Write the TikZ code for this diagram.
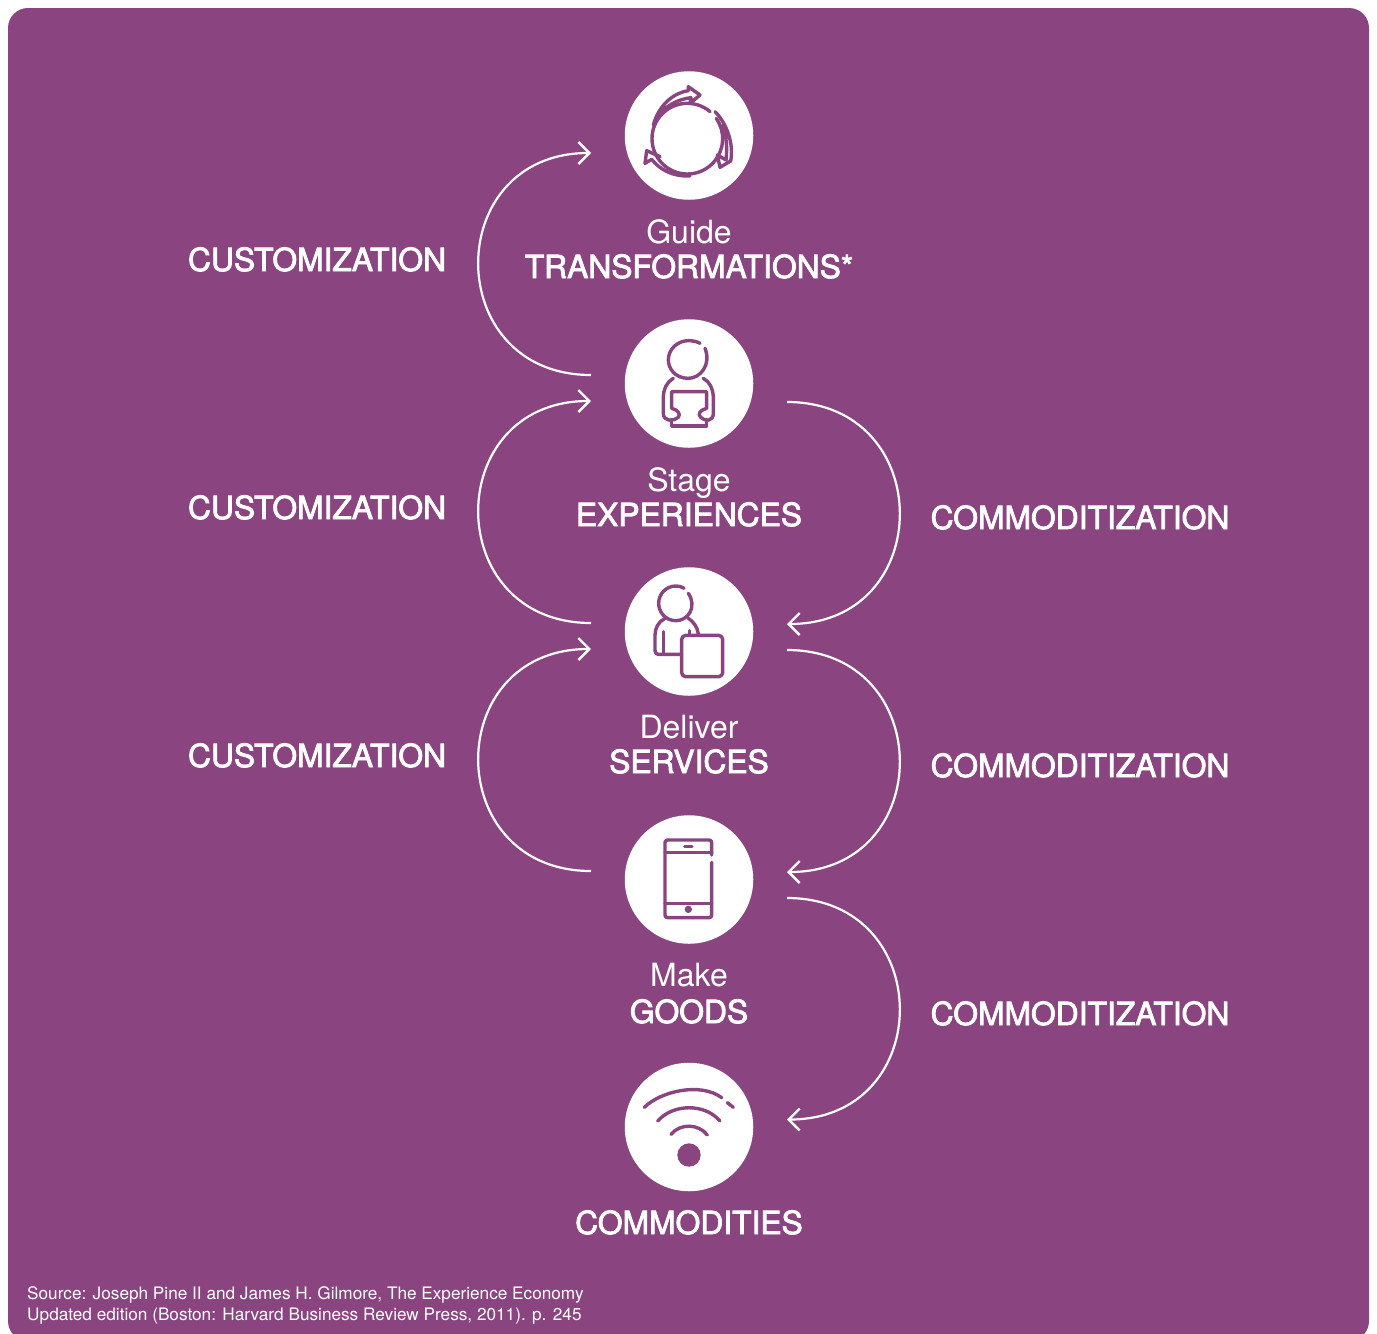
\documentclass[tikz,border=0pt]{standalone}
\usepackage{fontspec}
\setmainfont{TeX Gyre Heros}
\newfontfamily\medfont[FakeBold=2.5]{TeX Gyre Heros}
\usetikzlibrary{arrows.meta}
\definecolor{plum}{RGB}{138,68,128}
\tikzset{
  disc/.style={circle,fill=white,minimum size=128.5pt,inner sep=0pt},
  flow/.style={white,line width=2.2pt,-{Straight Barb[length=11pt,width=22pt,line width=2.4pt]}},
  small/.style={white,anchor=base,font=\fontsize{32pt}{34pt}\selectfont},
  big/.style={white,anchor=base,font=\medfont\fontsize{31.8pt}{34pt}\selectfont},
  note/.style={white,anchor=base west,inner sep=0pt,font=\fontsize{17.2pt}{19pt}\selectfont},
  icon/.style={shift={(#1)},scale=1/3,plum,line width=3.4pt,line cap=round,line join=round},
}
\begin{document}
\begin{tikzpicture}[x=1pt,y=-1pt]
\useasboundingbox (0,0) rectangle (1377,1334);
\fill[plum,rounded corners=20pt] (8,8) rectangle (1369,1341);
% circles
\foreach \n/\y in {guide/135.5,stage/383.5,services/631.5,goods/879.5,commodities/1127} {
  \node[disc] (\n) at (689,\y) {};
}
% captions
\foreach \n/\y/\z/\s/\t in {guide/243/278/Guide/TRANSFORMATIONS*,stage/491/526/Stage/EXPERIENCES,services/738/773/Deliver/SERVICES,goods/986/1023/Make/GOODS} {
  \node[small] (\n-a) at (689,\y) {\s};
  \node[big] (\n-b) at (689,\z) {\t};
}
\node[big] (commodities-b) at (689,1234) {COMMODITIES};
% customization arcs
\foreach \i/\j/\y in {stage/guide/271,services/stage/519,goods/services/767} {
  \coordinate (\i-from) at ([shift={(-98,-8.5)}]\i.center);
  \coordinate (\j-to) at ([shift={(-98,17.5)}]\j.center);
  \draw[flow] (\i-from) .. controls +(-150,0) and +(-150,0) .. (\j-to);
  \node[big] (\i-up) at (317,\y) {CUSTOMIZATION};
}
% commoditization arcs
\foreach \i/\j/\y in {stage/services/529,services/goods/777,goods/commodities/1025} {
  \coordinate (\i-start) at ([shift={(98,18.5)}]\i.center);
  \coordinate (\j-end) at ([shift={(98,-7.5)}]\j.center);
  \draw[flow] (\i-start) .. controls +(150,0) and +(150,0) .. (\j-end);
  \node[big] (\i-down) at (1080,\y) {COMMODITIZATION};
}
% cycle
\begin{scope}[icon={610,60}]
  \draw (232,236) ++(-50:106) arc[start angle=-50,end angle=-395,radius=106];
  \draw (130,195) .. controls (145,140) and (185,100) .. (235,92) -- (235,80) -- (270,105) -- (240,130) -- (243,113) .. controls (200,118) and (165,140) .. (142,170);
  \draw (240,348) .. controls (190,350) and (150,330) .. (125,298) -- (105,310) -- (110,272) -- (150,290) -- (135,283);
  \draw (315,155) .. controls (350,190) and (372,250) .. (362,303) -- (330,322) -- (322,285) -- (348,300) .. controls (352,265) and (350,230) .. (338,195);
\end{scope}
% person with book
\begin{scope}[icon={610,310}]
  \draw (285,115) .. controls (305,165) and (270,205) .. (235,205) .. controls (195,205) and (175,175) .. (175,150) .. controls (175,115) and (205,92) .. (235,92) .. controls (250,92) and (262,95) .. (270,100);
  \draw (190,205) .. controls (170,215) and (160,240) .. (160,260) -- (160,310) .. controls (160,335) and (190,335) .. (205,322) .. controls (212,312) and (205,300) .. (185,295) -- (185,245) -- (290,245) -- (290,295) .. controls (270,300) and (262,312) .. (272,322) .. controls (285,335) and (310,335) .. (310,310) -- (310,260) .. controls (310,240) and (300,215) .. (280,205);
  \draw (185,335) -- (185,348) -- (290,348) -- (290,335);
\end{scope}
% person with box
\begin{scope}[icon={610,560}]
  \draw (235,100) .. controls (262,140) and (235,182) .. (198,182) .. controls (165,182) and (146,155) .. (146,130) .. controls (146,100) and (170,78) .. (198,78) .. controls (208,78) and (215,80) .. (222,85);
  \draw (165,175) .. controls (145,185) and (135,205) .. (135,225) -- (135,272) .. controls (135,280) and (140,283) .. (145,283) -- (215,283);
  \draw (235,175) .. controls (250,185) and (262,200) .. (265,222);
  \draw (160,215) -- (160,280);
  \draw (238,212) -- (238,225);
  \draw[rounded corners=4pt] (215,226) rectangle (338,350);
\end{scope}
% phone
\begin{scope}[icon={610,805}]
  \draw[rounded corners=2.5pt] (305,150) -- (305,105) -- (165,105) -- (165,338) -- (305,338) -- (305,172);
  \draw (165,143) -- (305,143);
  \draw (165,295) -- (305,295);
  \draw (224,124) -- (246,124);
  \fill (235,313) circle[radius=11];
\end{scope}
% signal
\begin{scope}[icon={610,1055}]
  \draw (103,157) .. controls (150,110) and (270,80) .. (335,128);
  \draw (352,143) -- (370,157);
  \draw (143,198) .. controls (190,145) and (285,145) .. (330,198);
  \draw (183,238) .. controls (210,205) and (265,205) .. (292,240);
  \fill (237,300) circle[radius=35];
\end{scope}
\node[note] (source-a) at (27,1299) {Source: Joseph Pine II and James H. Gilmore, The Experience Economy};
\node[note] (source-b) at (27,1320) {Updated edition (Boston: Harvard Business Review Press, 2011). p. 245};
\end{tikzpicture}
\end{document}
